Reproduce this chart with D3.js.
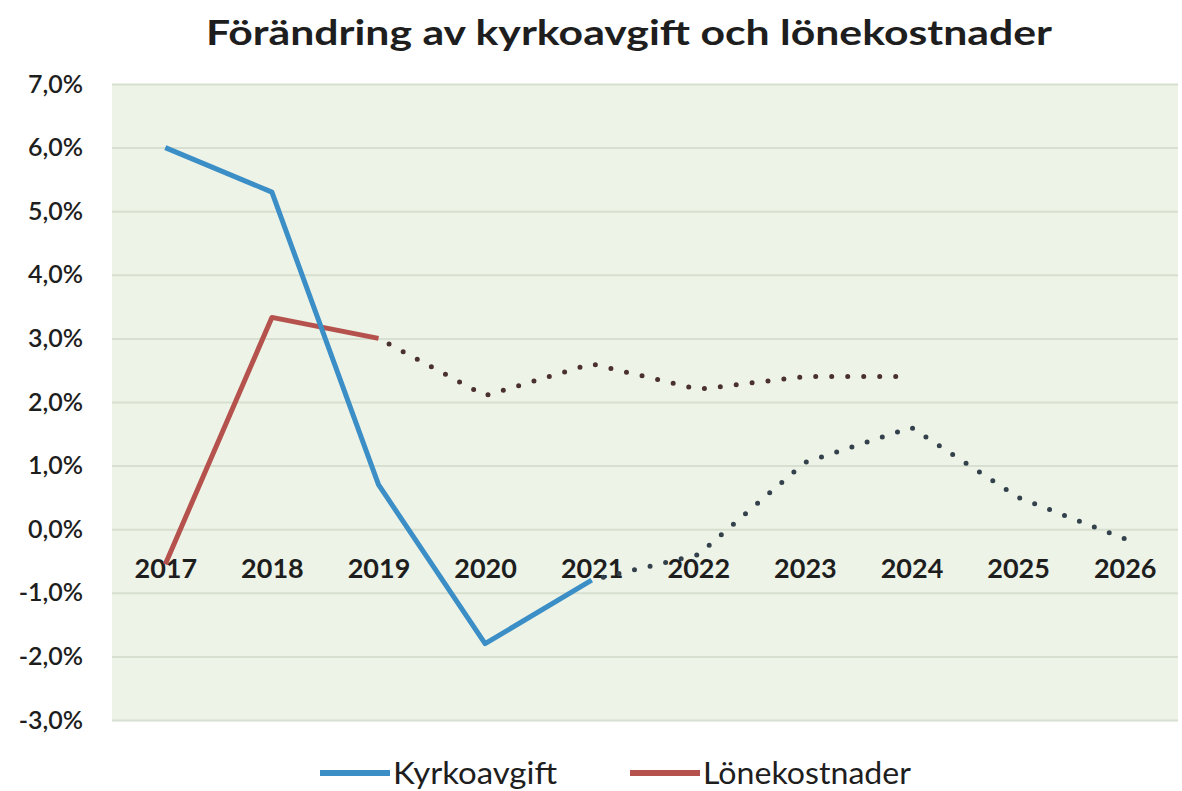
<!DOCTYPE html>
<html>
<head>
<meta charset="utf-8">
<script src="https://cdn.jsdelivr.net/npm/d3@7"></script>
<style>
  body { margin: 0; background: #fff; }
  svg text { font-family: Lato, "Open Sans", sans-serif; fill: #1e1e1e; }
</style>
</head>
<body>
<div id="chart"><svg width="1182" height="791"></svg></div>
<script>
// data
const years = ["2017", "2018", "2019", "2020", "2021", "2022", "2023", "2024", "2025", "2026"];
const kyrkoavgift = [6.0, 5.3, 0.7, -1.8, -0.8, -0.4, 1.05, 1.6, 0.5, -0.15];
const lonekostnader = [-0.55, 3.33, 3.0, 2.1, 2.6, 2.2, 2.4, 2.4, null, null];
const kyrkoLastActual = "2021";
const loneLastActual = "2019";
const yTicks = [7, 6, 5, 4, 3, 2, 1, 0, -1, -2, -3];
const seriesNames = ["Kyrkoavgift", "Lönekostnader"];

// setup
const width = 1182, height = 791;
const margin = {top: 84, right: 4, bottom: 71, left: 112};
const svg = d3.select("#chart").select("svg");

const locale = d3.formatLocale({decimal: ",", thousands: " ", grouping: [3], currency: ["", " kr"], minus: "-"});
const fmt = v => locale.format(".1f")(v) + "%";

const xScale = d3.scalePoint()
	.domain(years)
	.range([margin.left, width - margin.right])
	.padding(0.5);

const yScale = d3.scaleLinear()
	.domain([-3, 7])
	.range([height - margin.bottom, margin.top]);

// plot background
svg.append("rect")
	.attr("x", margin.left)
	.attr("y", margin.top)
	.attr("width", width - margin.right - margin.left)
	.attr("height", yScale(-3) - yScale(7))
	.attr("fill", "#edf3e6");

// y grid
svg.append("g")
	.attr("transform", `translate(${margin.left}, 0)`)
	.call(d3.axisLeft(yScale)
		.tickValues(yTicks)
		.tickFormat("")
		.tickSize(-(width - margin.right - margin.left)))
	.call(g => g.select(".domain").remove())
	.call(g => g.selectAll("line").attr("stroke", "#d6dfd0").attr("stroke-width", 2));

// y axis labels
svg.append("g")
	.attr("transform", `translate(83, 0)`)
	.call(d3.axisLeft(yScale).tickValues(yTicks).tickFormat(fmt).tickSize(0).tickPadding(0))
	.call(g => g.select(".domain").remove())
	.call(g => g.selectAll("text")
		.attr("font-size", 25)
		.attr("font-weight", 600)
		.attr("fill", "#222")
		.attr("font-family", "Lato, sans-serif"));

// x axis labels, next to the zero line
svg.append("g")
	.attr("transform", `translate(0, ${yScale(0) + 30})`)
	.call(d3.axisBottom(xScale).tickSize(0).tickPadding(0))
	.call(g => g.select(".domain").remove())
	.call(g => g.selectAll("text")
		.attr("font-size", 27)
		.attr("font-weight", 700)
		.attr("fill", "#1a1a1a")
		.attr("font-family", "Lato, sans-serif"));

// lines
const colors = {blue: "#3b8ec6", red: "#b5524e"};
const dotColors = {blue: "#33414d", red: "#4b3030"};

const line = d3.line()
	.defined(d => d.v !== null)
	.x(d => xScale(d.year))
	.y(d => yScale(d.v));

function drawSeries(values, lastActual, color, dotColor) {
	const pts = years.map((y, i) => ({year: y, v: values[i]}));
	const cut = years.indexOf(lastActual);
	const actual = pts.slice(0, cut + 1);
	const forecast = pts.slice(cut).filter(d => d.v !== null);

	svg.append("path")
		.datum(forecast)
		.attr("fill", "none")
		.attr("stroke", dotColor)
		.attr("stroke-width", 5)
		.attr("stroke-linecap", "round")
		.attr("stroke-dasharray", "0 16")
		.attr("stroke-dashoffset", -12)
		.attr("d", line);

	svg.append("path")
		.datum(actual)
		.attr("fill", "none")
		.attr("stroke", color)
		.attr("stroke-width", 5)
		.attr("stroke-linejoin", "round")
		.attr("d", line);
}

drawSeries(lonekostnader, loneLastActual, colors.red, dotColors.red);
drawSeries(kyrkoavgift, kyrkoLastActual, colors.blue, dotColors.blue);

// title
svg.append("text")
	.attr("x", 629)
	.attr("y", 45)
	.attr("text-anchor", "middle")
	.attr("font-size", 34)
	.attr("font-weight", 700)
	.attr("textLength", 846)
	.attr("lengthAdjust", "spacingAndGlyphs")
	.text("Förändring av kyrkoavgift och lönekostnader");

// legend
const legend = svg.append("g").attr("transform", "translate(0, 773)");
const legendItems = [
	{name: seriesNames[0], color: colors.blue, x: 320, w: 164},
	{name: seriesNames[1], color: colors.red, x: 630, w: 208}
];
legend.selectAll("line")
	.data(legendItems)
	.enter().append("line")
	.attr("x1", d => d.x).attr("x2", d => d.x + 70)
	.attr("y1", 0).attr("y2", 0)
	.attr("stroke", d => d.color)
	.attr("stroke-width", 6);
legend.selectAll("text")
	.data(legendItems)
	.enter().append("text")
	.attr("x", d => d.x + 73)
	.attr("y", 11)
	.attr("font-size", 30)
	.attr("fill", "#1e1e1e")
	.attr("textLength", d => d.w)
	.attr("lengthAdjust", "spacingAndGlyphs")
	.text(d => d.name);
</script>
</body>
</html>
